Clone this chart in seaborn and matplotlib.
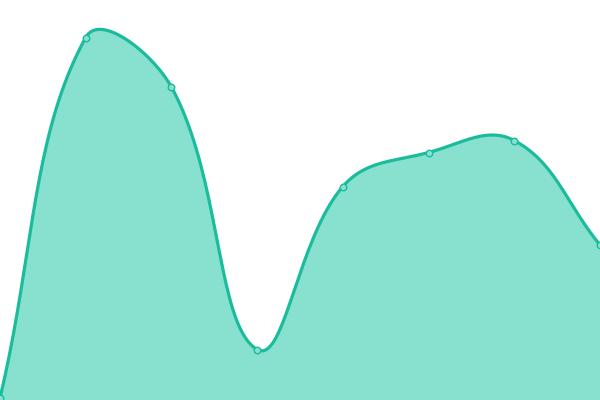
import numpy as np
import pandas as pd
import matplotlib
matplotlib.use("Agg")
import matplotlib.pyplot as plt
import seaborn as sns

# values (height above the bottom edge, 0-400 scale)
labels = ["A", "B", "C", "D", "E", "F", "G", "H"]
values = [2, 362.5, 313, 50.5, 213.5, 247.5, 259.5, 155]

LINE = "#1abc9c"
FILL = "#88e0cf"
W, H = 600, 400


def smooth_curve(xs, ys, tension=0.4, steps=40):
    # chart.js style bezier smoothing, done in pixel space
    pts = np.column_stack([xs, ys]).astype(float)
    n = len(pts)
    cps = []
    for i in range(n):
        prev = pts[max(i - 1, 0)]
        cur = pts[i]
        nxt = pts[min(i + 1, n - 1)]
        d01 = np.hypot(*(cur - prev))
        d12 = np.hypot(*(nxt - cur))
        tot = d01 + d12
        fa = tension * d01 / tot if tot else 0
        fb = tension * d12 / tot if tot else 0
        c1 = cur - fa * (nxt - prev)
        c2 = cur + fb * (nxt - prev)
        c1 = np.clip(c1, [0, 0], [W, H])
        c2 = np.clip(c2, [0, 0], [W, H])
        cps.append((c1, c2))
    out = []
    t = np.linspace(0, 1, steps)[:, None]
    for i in range(n - 1):
        p0, p3 = pts[i], pts[i + 1]
        p1, p2 = cps[i][1], cps[i + 1][0]
        seg = ((1 - t) ** 3) * p0 + 3 * ((1 - t) ** 2) * t * p1 + 3 * (1 - t) * t ** 2 * p2 + t ** 3 * p3
        out.append(seg if i == 0 else seg[1:])
    return np.vstack(out)


step = W / (len(values) - 1)
px = np.arange(len(values)) * step
curve = smooth_curve(px, values)

df = pd.DataFrame({"label": labels, "x": np.arange(len(values)), "y": values})
cdf = pd.DataFrame({"x": curve[:, 0] / step, "y": curve[:, 1]})

fig = plt.figure(figsize=(6, 4), dpi=100)
ax = fig.add_axes([0, 0, 1, 1])

ax.fill_between(cdf.x, cdf.y, 0, color=FILL, linewidth=0, zorder=1)
sns.lineplot(data=cdf, x="x", y="y", ax=ax, color=LINE, linewidth=2.3, sort=False,
             estimator=None, zorder=2)
sns.scatterplot(data=df, x="x", y="y", ax=ax, s=22, color=FILL, edgecolor=LINE,
                linewidth=1.0, zorder=3)

ax.set_xlim(0, len(values) - 1)
ax.set_ylim(0, H)
ax.axis("off")

fig.savefig("out.png", dpi=100)
